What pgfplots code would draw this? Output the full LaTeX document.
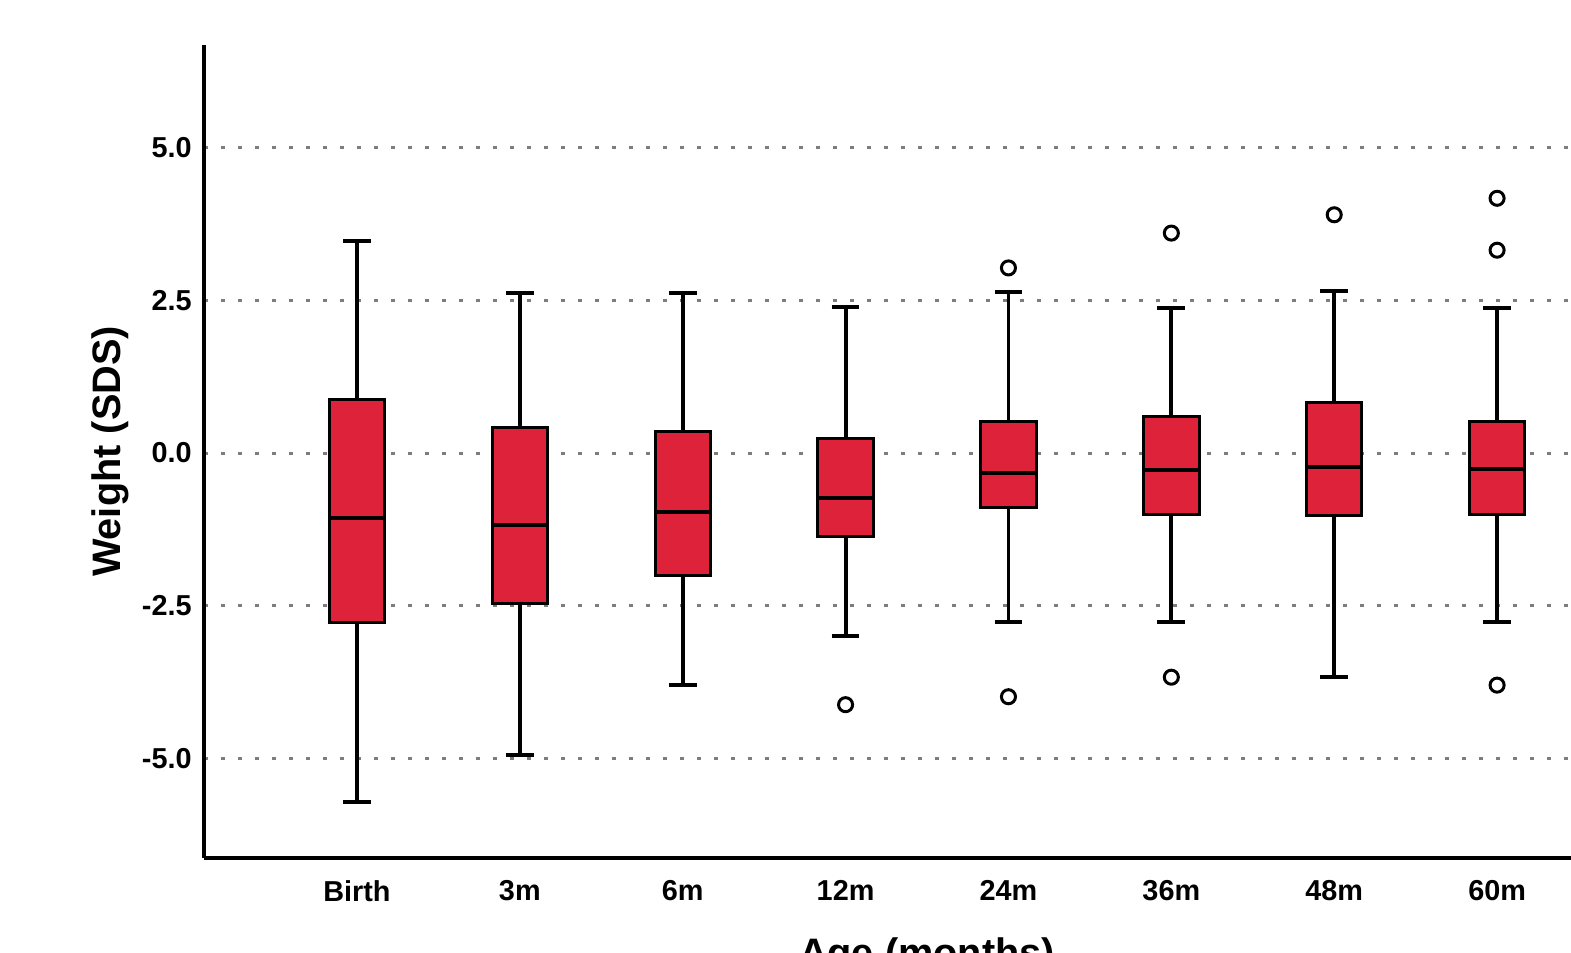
\documentclass[border=0pt]{standalone}
\usepackage{fontspec}
\setmainfont{Liberation Sans}
\usepackage{pgfplots}
\pgfplotsset{compat=1.18}
\usepgfplotslibrary{statistics}
\definecolor{boxred}{RGB}{221,34,58}
\definecolor{gridgray}{RGB}{125,125,125}
\pgfplotsset{
  mybox/.style={
    boxplot prepared={#1, draw direction=y, box extend=0.34, whisker extend=0.17},
    draw=black, line width=1.1pt, solid,
    mark=o, mark size=2pt, mark options={line width=0.85pt, draw=black, fill=white, solid}
  }
}
\begin{document}
\begin{tikzpicture}
\useasboundingbox (0,0) rectangle (157.1mm,95.3mm);
\clip (0,0) rectangle (157.1mm,95.3mm);
\begin{axis}[
  at={(20.4mm,9.5mm)}, anchor=south west,
  scale only axis, width=144.6mm, height=81.3mm,
  xmin=0.061, xmax=8.939, ymin=-6.63, ymax=6.68,
  axis x line=bottom, axis y line=left,
  axis line style={line width=1.1pt,-},
  xtick={1,...,8}, xticklabels={Birth,3m,6m,12m,24m,36m,48m,60m},
  ytick={-5,-2.5,0,2.5,5}, yticklabels={-5.0,-2.5,0.0,2.5,5.0},
  major tick length=0pt,
  tick label style={font=\fontsize{8.2}{10}\selectfont\bfseries},
  xticklabel style={yshift=-1.0mm},
  ymajorgrids,
  grid style={gridgray, line width=0.85pt, dash pattern=on 0.35mm off 1.35mm},
  xlabel={Age (months)}, ylabel={Weight (SDS)},
  label style={font=\fontsize{11.3}{13}\selectfont\bfseries},
  xlabel style={at={(axis description cs:0.5,-0.133)}, anchor=base},
  ylabel style={at={(axis description cs:-0.065,0.5)}, anchor=center},
  boxplot/every box/.style={draw=black, line width=0.85pt, fill=boxred},
  boxplot/every whisker/.style={draw=black, line width=1.1pt},
  boxplot/every median/.style={draw=black, line width=1.1pt},
]
\addplot[mybox={draw position=1, lower whisker=-5.71, lower quartile=-2.77, median=-1.06, upper quartile=0.88, upper whisker=3.47}] coordinates {};
\addplot[mybox={draw position=2, lower whisker=-4.94, lower quartile=-2.47, median=-1.18, upper quartile=0.41, upper whisker=2.62}] coordinates {};
\addplot[mybox={draw position=3, lower whisker=-3.80, lower quartile=-2.01, median=-0.97, upper quartile=0.36, upper whisker=2.62}] coordinates {};
\addplot[mybox={draw position=4, lower whisker=-3.00, lower quartile=-1.36, median=-0.74, upper quartile=0.23, upper whisker=2.39}] table[row sep=\\, y index=0] {data\\ -4.12\\};
\addplot[mybox={draw position=5, lower whisker=-2.77, lower quartile=-0.90, median=-0.33, upper quartile=0.52, upper whisker=2.64}] table[row sep=\\, y index=0] {data\\ 3.03\\ -3.99\\};
\addplot[mybox={draw position=6, lower whisker=-2.77, lower quartile=-1.00, median=-0.28, upper quartile=0.60, upper whisker=2.37}] table[row sep=\\, y index=0] {data\\ 3.60\\ -3.67\\};
\addplot[mybox={draw position=7, lower whisker=-3.67, lower quartile=-1.03, median=-0.23, upper quartile=0.82, upper whisker=2.65}] table[row sep=\\, y index=0] {data\\ 3.90\\};
\addplot[mybox={draw position=8, lower whisker=-2.77, lower quartile=-1.00, median=-0.26, upper quartile=0.51, upper whisker=2.37}] table[row sep=\\, y index=0] {data\\ 4.17\\ 3.32\\ -3.80\\};
\end{axis}
\end{tikzpicture}
\end{document}
